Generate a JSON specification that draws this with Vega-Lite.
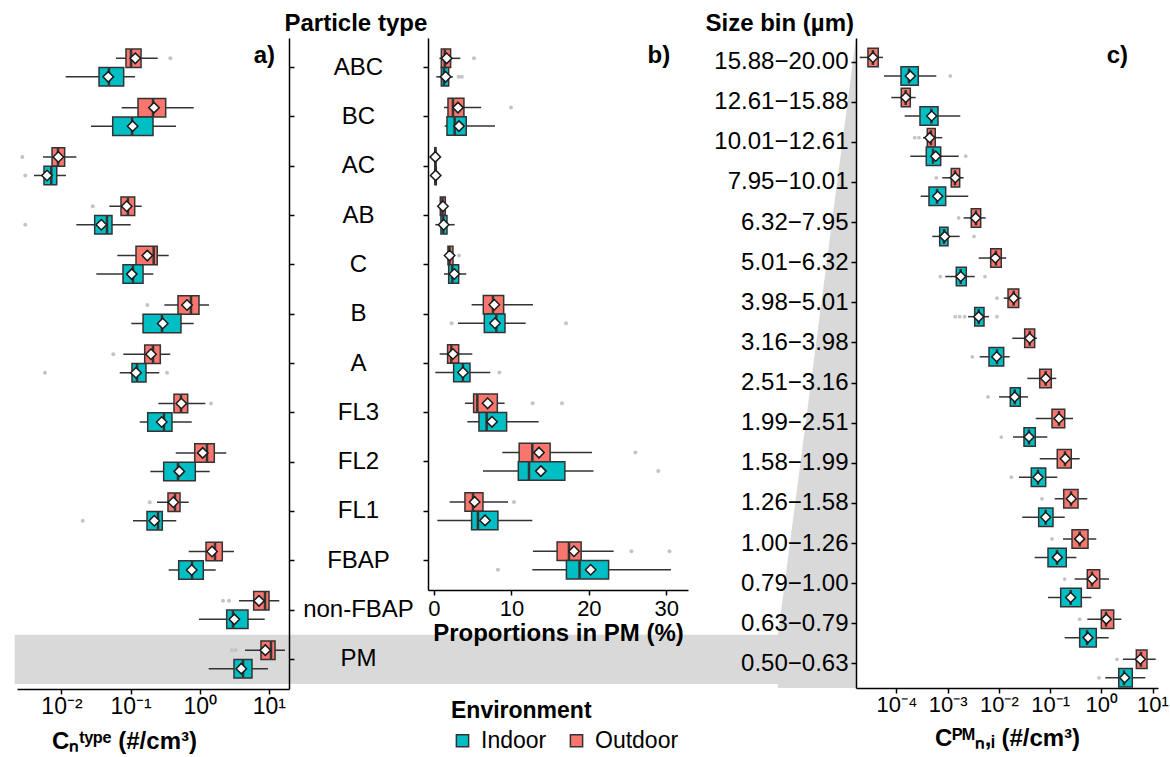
{
  "$schema": "https://vega.github.io/schema/vega-lite/v6.json",
  "background": "white",
  "padding": {"left": 14, "top": 11, "right": 5, "bottom": 5},
  "config": {
    "view": {"stroke": null},
    "font": "Liberation Sans",
    "axis": {"domainColor": "black", "domainWidth": 1.5, "tickColor": "black", "tickWidth": 1.5, "tickSize": 5, "labelColor": "black", "titleColor": "black", "grid": false, "labelFlush": false, "labelOverlap": false, "titleFontWeight": "bold", "titleFontSize": 24},
    "legend": {"orient": "none", "legendX": 434, "legendY": 662, "direction": "horizontal", "titleFontSize": 23, "titleFontWeight": "bold", "titleColor": "black", "labelFontSize": 23, "labelColor": "black", "symbolType": "square", "symbolSize": 150, "symbolStrokeColor": "#333333", "symbolStrokeWidth": 1.5, "symbolOpacity": 1, "labelOffset": 7, "columnPadding": 18, "titlePadding": 6}
  },
  "datasets": {
    "boxa": [
      {"t": "ABC", "env": "Outdoor", "lo": 0.0615, "q1": 0.0857, "med": 0.1014, "q3": 0.1416, "hi": 0.2466, "mean": 0.1169},
      {"t": "ABC", "env": "Indoor", "lo": 0.0115, "q1": 0.0349, "med": 0.0486, "q3": 0.0794, "hi": 0.1159, "mean": 0.0475},
      {"t": "BC", "env": "Outdoor", "lo": 0.0743, "q1": 0.128, "med": 0.211, "q3": 0.322, "hi": 0.819, "mean": 0.218},
      {"t": "BC", "env": "Indoor", "lo": 0.0267, "q1": 0.0551, "med": 0.105, "q3": 0.211, "hi": 0.454, "mean": 0.107},
      {"t": "AC", "env": "Outdoor", "lo": 0.0054, "q1": 0.0073, "med": 0.0089, "q3": 0.0111, "hi": 0.0164, "mean": 0.009},
      {"t": "AC", "env": "Indoor", "lo": 0.004, "q1": 0.00558, "med": 0.00711, "q3": 0.00853, "hi": 0.0116, "mean": 0.00617},
      {"t": "AB", "env": "Outdoor", "lo": 0.0492, "q1": 0.0726, "med": 0.0916, "q3": 0.1146, "hi": 0.1448, "mean": 0.0878},
      {"t": "AB", "env": "Indoor", "lo": 0.0164, "q1": 0.0302, "med": 0.0455, "q3": 0.0538, "hi": 0.1003, "mean": 0.0377},
      {"t": "C", "env": "Outdoor", "lo": 0.0642, "q1": 0.1197, "med": 0.216, "q3": 0.243, "hi": 0.356, "mean": 0.1745},
      {"t": "C", "env": "Indoor", "lo": 0.0319, "q1": 0.0776, "med": 0.1083, "q3": 0.1514, "hi": 0.213, "mean": 0.1038},
      {"t": "B", "env": "Outdoor", "lo": 0.3076, "q1": 0.485, "med": 0.748, "q3": 0.977, "hi": 1.364, "mean": 0.655},
      {"t": "B", "env": "Indoor", "lo": 0.1023, "q1": 0.1514, "med": 0.2847, "q3": 0.536, "hi": 0.819, "mean": 0.2917},
      {"t": "A", "env": "Outdoor", "lo": 0.0784, "q1": 0.16, "med": 0.211, "q3": 0.269, "hi": 0.3756, "mean": 0.197},
      {"t": "A", "env": "Indoor", "lo": 0.0696, "q1": 0.1047, "med": 0.1239, "q3": 0.167, "hi": 0.26, "mean": 0.1197},
      {"t": "FL3", "env": "Outdoor", "lo": 0.2518, "q1": 0.4246, "med": 0.536, "q3": 0.67, "hi": 1.205, "mean": 0.542},
      {"t": "FL3", "env": "Indoor", "lo": 0.1355, "q1": 0.1767, "med": 0.304, "q3": 0.397, "hi": 0.766, "mean": 0.282},
      {"t": "FL2", "env": "Outdoor", "lo": 0.4497, "q1": 0.847, "med": 1.276, "q3": 1.626, "hi": 2.426, "mean": 1.105},
      {"t": "FL2", "env": "Indoor", "lo": 0.193, "q1": 0.301, "med": 0.485, "q3": 0.864, "hi": 1.396, "mean": 0.507},
      {"t": "FL1", "env": "Outdoor", "lo": 0.241, "q1": 0.3476, "med": 0.4393, "q3": 0.519, "hi": 0.693, "mean": 0.415},
      {"t": "FL1", "env": "Indoor", "lo": 0.1083, "q1": 0.1727, "med": 0.2492, "q3": 0.2877, "hi": 0.458, "mean": 0.2203},
      {"t": "FBAP", "env": "Outdoor", "lo": 0.693, "q1": 1.233, "med": 1.665, "q3": 2.123, "hi": 3.136, "mean": 1.507},
      {"t": "FBAP", "env": "Indoor", "lo": 0.3557, "q1": 0.4966, "med": 0.774, "q3": 1.127, "hi": 1.704, "mean": 0.766},
      {"t": "non-FBAP", "env": "Outdoor", "lo": 3.705, "q1": 6.04, "med": 8.81, "q3": 10.07, "hi": 14.19, "mean": 7.21},
      {"t": "non-FBAP", "env": "Indoor", "lo": 0.977, "q1": 2.459, "med": 3.034, "q3": 5.0, "hi": 8.72, "mean": 3.17},
      {"t": "PM", "env": "Outdoor", "lo": 4.525, "q1": 7.71, "med": 10.76, "q3": 12.3, "hi": 17.15, "mean": 8.9},
      {"t": "PM", "env": "Indoor", "lo": 1.349, "q1": 3.136, "med": 4.233, "q3": 5.71, "hi": 9.73, "mean": 4.0}
    ],
    "outa": [
      {"t": "ABC", "env": "Outdoor", "v": 0.376},
      {"t": "AC", "env": "Outdoor", "v": 0.00271},
      {"t": "AC", "env": "Indoor", "v": 0.00299},
      {"t": "AB", "env": "Outdoor", "v": 0.0283},
      {"t": "AB", "env": "Indoor", "v": 0.00299},
      {"t": "B", "env": "Outdoor", "v": 0.1745},
      {"t": "A", "env": "Outdoor", "v": 0.0562},
      {"t": "A", "env": "Indoor", "v": 0.00577},
      {"t": "A", "env": "Indoor", "v": 0.3365},
      {"t": "FL3", "env": "Outdoor", "v": 1.457},
      {"t": "FL1", "env": "Outdoor", "v": 0.189},
      {"t": "FL1", "env": "Indoor", "v": 0.0203},
      {"t": "non-FBAP", "env": "Outdoor", "v": 2.173},
      {"t": "non-FBAP", "env": "Outdoor", "v": 2.654},
      {"t": "PM", "env": "Outdoor", "v": 2.93},
      {"t": "PM", "env": "Outdoor", "v": 3.32}
    ],
    "boxb": [
      {"t": "ABC", "env": "Outdoor", "lo": 0.7, "q1": 0.95, "med": 1.4, "q3": 2.15, "hi": 3.4, "mean": 1.64},
      {"t": "ABC", "env": "Indoor", "lo": 0.3, "q1": 0.95, "med": 1.3, "q3": 1.9, "hi": 2.45, "mean": 1.5},
      {"t": "BC", "env": "Outdoor", "lo": 1.29, "q1": 1.81, "med": 2.45, "q3": 3.87, "hi": 6.1, "mean": 3.1},
      {"t": "BC", "env": "Indoor", "lo": 1.38, "q1": 1.68, "med": 2.67, "q3": 4.17, "hi": 7.88, "mean": 3.23},
      {"t": "AC", "env": "Outdoor", "lo": 0.0, "q1": 0.1, "med": 0.17, "q3": 0.25, "hi": 0.4, "mean": 0.17},
      {"t": "AC", "env": "Indoor", "lo": 0.0, "q1": 0.12, "med": 0.2, "q3": 0.3, "hi": 0.45, "mean": 0.22},
      {"t": "AB", "env": "Outdoor", "lo": 0.8, "q1": 0.82, "med": 1.1, "q3": 1.46, "hi": 1.6, "mean": 1.16},
      {"t": "AB", "env": "Indoor", "lo": 0.17, "q1": 0.9, "med": 1.2, "q3": 1.68, "hi": 2.67, "mean": 1.25},
      {"t": "C", "env": "Outdoor", "lo": 1.7, "q1": 1.81, "med": 2.0, "q3": 2.45, "hi": 2.6, "mean": 2.02},
      {"t": "C", "env": "Indoor", "lo": 1.29, "q1": 1.9, "med": 2.37, "q3": 3.19, "hi": 4.17, "mean": 2.63},
      {"t": "B", "env": "Outdoor", "lo": 4.86, "q1": 6.37, "med": 7.62, "q3": 9.0, "hi": 12.78, "mean": 7.79},
      {"t": "B", "env": "Indoor", "lo": 3.1, "q1": 6.5, "med": 8.05, "q3": 9.17, "hi": 11.84, "mean": 7.88},
      {"t": "A", "env": "Outdoor", "lo": 0.73, "q1": 1.76, "med": 2.24, "q3": 3.19, "hi": 4.95, "mean": 2.45},
      {"t": "A", "env": "Indoor", "lo": 0.17, "q1": 2.54, "med": 3.74, "q3": 4.65, "hi": 7.27, "mean": 3.74},
      {"t": "FL3", "env": "Outdoor", "lo": 4.0, "q1": 5.12, "med": 5.6, "q3": 8.18, "hi": 9.12, "mean": 6.93},
      {"t": "FL3", "env": "Indoor", "lo": 4.31, "q1": 5.81, "med": 6.8, "q3": 9.38, "hi": 13.51, "mean": 7.49},
      {"t": "FL2", "env": "Outdoor", "lo": 8.82, "q1": 11.0, "med": 12.7, "q3": 15.0, "hi": 20.4, "mean": 13.56},
      {"t": "FL2", "env": "Indoor", "lo": 6.33, "q1": 10.89, "med": 12.27, "q3": 16.9, "hi": 20.6, "mean": 13.8},
      {"t": "FL1", "env": "Outdoor", "lo": 2.02, "q1": 4.0, "med": 5.04, "q3": 6.33, "hi": 9.56, "mean": 5.25},
      {"t": "FL1", "env": "Indoor", "lo": 0.43, "q1": 4.86, "med": 5.68, "q3": 8.26, "hi": 12.7, "mean": 6.59},
      {"t": "FBAP", "env": "Outdoor", "lo": 12.78, "q1": 15.9, "med": 17.43, "q3": 19.0, "hi": 23.2, "mean": 18.08},
      {"t": "FBAP", "env": "Indoor", "lo": 12.7, "q1": 17.1, "med": 18.8, "q3": 22.55, "hi": 30.6, "mean": 20.23}
    ],
    "outb": [
      {"t": "ABC", "env": "Outdoor", "v": 5.17},
      {"t": "ABC", "env": "Indoor", "v": 3.2},
      {"t": "ABC", "env": "Indoor", "v": 3.6},
      {"t": "BC", "env": "Outdoor", "v": 9.94},
      {"t": "C", "env": "Outdoor", "v": 3.23},
      {"t": "B", "env": "Indoor", "v": 2.28},
      {"t": "B", "env": "Indoor", "v": 17.05},
      {"t": "A", "env": "Indoor", "v": 8.44},
      {"t": "FL3", "env": "Outdoor", "v": 12.74},
      {"t": "FL3", "env": "Outdoor", "v": 16.53},
      {"t": "FL2", "env": "Outdoor", "v": 26.0},
      {"t": "FL2", "env": "Indoor", "v": 28.96},
      {"t": "FL1", "env": "Outdoor", "v": 10.33},
      {"t": "FBAP", "env": "Outdoor", "v": 25.5},
      {"t": "FBAP", "env": "Outdoor", "v": 30.4},
      {"t": "FBAP", "env": "Indoor", "v": 8.26}
    ],
    "boxc": [
      {"bin": "15.88−20.00", "env": "Outdoor", "lo": 1.91e-5, "q1": 2.77e-5, "med": 3.47e-5, "q3": 4.41e-5, "hi": 5.45e-5, "mean": 3.47e-5},
      {"bin": "15.88−20.00", "env": "Indoor", "lo": 5.7e-5, "q1": 1.225e-4, "med": 1.754e-4, "q3": 2.667e-4, "hi": 5.98e-4, "mean": 1.862e-4},
      {"bin": "12.61−15.88", "env": "Outdoor", "lo": 7.91e-5, "q1": 1.24e-4, "med": 1.514e-4, "q3": 1.862e-4, "hi": 2.37e-4, "mean": 1.514e-4},
      {"bin": "12.61−15.88", "env": "Indoor", "lo": 1.445e-4, "q1": 2.877e-4, "med": 4.79e-4, "q3": 6.47e-4, "hi": 1.762e-3, "mean": 4.87e-4},
      {"bin": "10.01−12.61", "env": "Outdoor", "lo": 3.3e-4, "q1": 4.0e-4, "med": 4.72e-4, "q3": 5.72e-4, "hi": 7.85e-4, "mean": 4.45e-4},
      {"bin": "10.01−12.61", "env": "Indoor", "lo": 1.862e-4, "q1": 3.82e-4, "med": 5.16e-4, "q3": 7.3e-4, "hi": 1.64e-3, "mean": 5.83e-4},
      {"bin": "7.95−10.01", "env": "Outdoor", "lo": 7.85e-4, "q1": 1.175e-3, "med": 1.39e-3, "q3": 1.714e-3, "hi": 2.05e-3, "mean": 1.406e-3},
      {"bin": "7.95−10.01", "env": "Indoor", "lo": 2.97e-4, "q1": 4.31e-4, "med": 6.18e-4, "q3": 9.14e-4, "hi": 2.52e-3, "mean": 6.38e-4},
      {"bin": "6.32−7.95", "env": "Outdoor", "lo": 2.05e-3, "q1": 2.89e-3, "med": 3.57e-3, "q3": 4.41e-3, "hi": 5.52e-3, "mean": 3.52e-3},
      {"bin": "6.32−7.95", "env": "Indoor", "lo": 5.0e-4, "q1": 6.98e-4, "med": 8.47e-4, "q3": 1.014e-3, "hi": 1.714e-3, "mean": 8.73e-4},
      {"bin": "5.01−6.32", "env": "Outdoor", "lo": 4.03e-3, "q1": 6.91e-3, "med": 8.77e-3, "q3": 1.114e-2, "hi": 1.395e-2, "mean": 8.51e-3},
      {"bin": "5.01−6.32", "env": "Indoor", "lo": 8.98e-4, "q1": 1.472e-3, "med": 1.795e-3, "q3": 2.31e-3, "hi": 3.37e-3, "mean": 1.795e-3},
      {"bin": "3.98−5.01", "env": "Outdoor", "lo": 1.241e-2, "q1": 1.507e-2, "med": 1.945e-2, "q3": 2.44e-2, "hi": 2.74e-2, "mean": 1.945e-2},
      {"bin": "3.98−5.01", "env": "Indoor", "lo": 2.49e-3, "q1": 3.37e-3, "med": 4.03e-3, "q3": 5.12e-3, "hi": 6.41e-3, "mean": 4.03e-3},
      {"bin": "3.16−3.98", "env": "Outdoor", "lo": 1.828e-2, "q1": 3.19e-2, "med": 4.0e-2, "q3": 5.0e-2, "hi": 5.55e-2, "mean": 4.0e-2},
      {"bin": "3.16−3.98", "env": "Indoor", "lo": 4.22e-3, "q1": 6.41e-3, "med": 9.18e-3, "q3": 1.241e-2, "hi": 1.625e-2, "mean": 9.06e-3},
      {"bin": "2.51−3.16", "env": "Outdoor", "lo": 3.59e-2, "q1": 6.27e-2, "med": 8.2e-2, "q3": 0.1055, "hi": 0.132, "mean": 8.2e-2},
      {"bin": "2.51−3.16", "env": "Indoor", "lo": 1.005e-2, "q1": 1.67e-2, "med": 2.04e-2, "q3": 2.62e-2, "hi": 3.7e-2, "mean": 2.04e-2},
      {"bin": "1.99−2.51", "env": "Outdoor", "lo": 5.24e-2, "q1": 0.1089, "med": 0.149, "q3": 0.193, "hi": 0.28, "mean": 0.149},
      {"bin": "1.99−2.51", "env": "Indoor", "lo": 1.884e-2, "q1": 3.09e-2, "med": 3.87e-2, "q3": 5.14e-2, "hi": 8.81e-2, "mean": 3.87e-2},
      {"bin": "1.58−1.99", "env": "Outdoor", "lo": 6.27e-2, "q1": 0.138, "med": 0.195, "q3": 0.259, "hi": 0.378, "mean": 0.198},
      {"bin": "1.58−1.99", "env": "Indoor", "lo": 2.47e-2, "q1": 4.29e-2, "med": 5.8e-2, "q3": 8.2e-2, "hi": 0.138, "mean": 5.8e-2},
      {"bin": "1.26−1.58", "env": "Outdoor", "lo": 0.123, "q1": 0.1845, "med": 0.256, "q3": 0.351, "hi": 0.533, "mean": 0.259},
      {"bin": "1.26−1.58", "env": "Indoor", "lo": 2.86e-2, "q1": 5.98e-2, "med": 8.2e-2, "q3": 0.114, "hi": 0.193, "mean": 8.2e-2},
      {"bin": "1.00−1.26", "env": "Outdoor", "lo": 0.1786, "q1": 0.268, "med": 0.378, "q3": 0.55, "hi": 0.798, "mean": 0.378},
      {"bin": "1.00−1.26", "env": "Indoor", "lo": 5.0e-2, "q1": 9.1e-2, "med": 0.1364, "q3": 0.207, "hi": 0.325, "mean": 0.1384},
      {"bin": "0.79−1.00", "env": "Outdoor", "lo": 0.302, "q1": 0.533, "med": 0.658, "q3": 0.931, "hi": 1.413, "mean": 0.667},
      {"bin": "0.79−1.00", "env": "Indoor", "lo": 9.1e-2, "q1": 0.161, "med": 0.252, "q3": 0.407, "hi": 0.638, "mean": 0.252},
      {"bin": "0.63−0.79", "env": "Outdoor", "lo": 0.533, "q1": 1.0, "med": 1.236, "q3": 1.746, "hi": 2.46, "mean": 1.253},
      {"bin": "0.63−0.79", "env": "Indoor", "lo": 0.193, "q1": 0.378, "med": 0.526, "q3": 0.798, "hi": 1.395, "mean": 0.55},
      {"bin": "0.50−0.63", "env": "Outdoor", "lo": 2.65, "q1": 4.83, "med": 5.96, "q3": 7.81, "hi": 11.55, "mean": 5.78},
      {"bin": "0.50−0.63", "env": "Indoor", "lo": 1.197, "q1": 2.19, "med": 2.77, "q3": 4.03, "hi": 7.23, "mean": 2.86}
    ],
    "outc": [
      {"bin": "15.88−20.00", "env": "Indoor", "v": 1.124e-3},
      {"bin": "10.01−12.61", "env": "Outdoor", "v": 2.27e-4},
      {"bin": "10.01−12.61", "env": "Outdoor", "v": 2.75e-4},
      {"bin": "10.01−12.61", "env": "Indoor", "v": 2.25e-3},
      {"bin": "7.95−10.01", "env": "Outdoor", "v": 5.98e-4},
      {"bin": "6.32−7.95", "env": "Outdoor", "v": 1.64e-3},
      {"bin": "6.32−7.95", "env": "Indoor", "v": 3.27e-3},
      {"bin": "5.01−6.32", "env": "Indoor", "v": 7.17e-4},
      {"bin": "5.01−6.32", "env": "Indoor", "v": 5.35e-3},
      {"bin": "3.98−5.01", "env": "Outdoor", "v": 9.18e-3},
      {"bin": "3.98−5.01", "env": "Indoor", "v": 1.406e-3},
      {"bin": "3.98−5.01", "env": "Indoor", "v": 1.714e-3},
      {"bin": "3.98−5.01", "env": "Indoor", "v": 2.15e-3},
      {"bin": "3.98−5.01", "env": "Indoor", "v": 9.18e-3},
      {"bin": "3.16−3.98", "env": "Indoor", "v": 3.02e-3},
      {"bin": "2.51−3.16", "env": "Indoor", "v": 6.12e-3},
      {"bin": "1.99−2.51", "env": "Indoor", "v": 1.114e-2},
      {"bin": "1.58−1.99", "env": "Indoor", "v": 1.746e-2},
      {"bin": "1.26−1.58", "env": "Outdoor", "v": 0.0695},
      {"bin": "1.00−1.26", "env": "Outdoor", "v": 0.109},
      {"bin": "0.79−1.00", "env": "Outdoor", "v": 0.193},
      {"bin": "0.63−0.79", "env": "Outdoor", "v": 0.378},
      {"bin": "0.50−0.63", "env": "Outdoor", "v": 2.03},
      {"bin": "0.50−0.63", "env": "Indoor", "v": 0.901}
    ],
    "wedge": [
      {"frac": 0, "edge": 4.84e-7},
      {"frac": 0.0815, "edge": 4.84e-7},
      {"frac": 1, "edge": 1.62e-5}
    ]
  },
  "spacing": 139,
  "bounds": "flush",
  "hconcat": [
    {
      "width": 272,
      "height": 651,
      "layer": [
        {
          "data": {"values": [{"t": "PM"}]},
          "mark": {"type": "rect", "color": "#d9d9d9"},
          "encoding": {
            "y": {"field": "t", "type": "nominal",
              "scale": {"type": "band", "domain": ["ABC", "BC", "AC", "AB", "C", "B", "A", "FL3", "FL2", "FL1", "FBAP", "non-FBAP", "PM"], "paddingInner": 0, "paddingOuter": 0.1},
              "axis": {"orient": "right", "labelAlign": "center", "labelBaseline": "middle", "labelPadding": 64, "labelFontSize": 24, "title": "Particle type", "titleAngle": 0, "titleAlign": "left", "titleBaseline": "alphabetic", "titleX": -5, "titleY": -8, "zindex": 1}},
            "x": {"datum": 0.0021, "type": "quantitative",
              "scale": {"type": "log", "domain": [0.00227, 19.6], "nice": false},
              "axis": {"values": [0.01, 0.1, 1, 10], "labelExpr": "datum.value < 0.05 ? '10⁻²' : datum.value < 0.5 ? '10⁻¹' : datum.value < 5 ? '10⁰' : '10¹'", "labelFontSize": 23, "labelPadding": 1, "title": "Cₙᵗʸᵖᵉ (#/cm³)", "titleX": 107, "titlePadding": 11}},
            "x2": {"datum": 2.34e8}
          }
        },
        {
          "data": {"name": "boxa"},
          "mark": {"type": "rule", "color": "#333333", "strokeWidth": 1.5},
          "encoding": {
            "y": {"field": "t", "type": "nominal"},
            "yOffset": {"field": "env", "type": "nominal", "scale": {"domain": ["Outdoor", "Indoor"], "paddingInner": 0, "paddingOuter": 0.333}},
            "x": {"field": "lo", "type": "quantitative"},
            "x2": {"field": "hi"}
          }
        },
        {
          "data": {"name": "boxa"},
          "mark": {"type": "bar", "stroke": "#333333", "strokeWidth": 1.5, "opacity": 1},
          "encoding": {
            "y": {"field": "t", "type": "nominal"},
            "yOffset": {"field": "env", "type": "nominal", "scale": {"domain": ["Outdoor", "Indoor"], "paddingInner": 0, "paddingOuter": 0.333}},
            "x": {"field": "q1", "type": "quantitative"},
            "x2": {"field": "q3"},
            "fill": {"field": "env", "type": "nominal", "title": "Environment", "scale": {"domain": ["Indoor", "Outdoor"], "range": ["#00BFC4", "#F8766D"]}}
          }
        },
        {
          "data": {"name": "boxa"},
          "mark": {"type": "tick", "color": "#333333", "thickness": 2.5, "size": 18, "opacity": 1},
          "encoding": {
            "y": {"field": "t", "type": "nominal"},
            "yOffset": {"field": "env", "type": "nominal", "scale": {"domain": ["Outdoor", "Indoor"], "paddingInner": 0, "paddingOuter": 0.333}},
            "x": {"field": "med", "type": "quantitative"}
          }
        },
        {
          "data": {"name": "outa"},
          "mark": {"type": "point", "filled": true, "color": "#c4c4c4", "size": 16, "opacity": 1},
          "encoding": {
            "y": {"field": "t", "type": "nominal"},
            "yOffset": {"field": "env", "type": "nominal", "scale": {"domain": ["Outdoor", "Indoor"], "paddingInner": 0, "paddingOuter": 0.333}},
            "x": {"field": "v", "type": "quantitative"}
          }
        },
        {
          "data": {"name": "boxa"},
          "mark": {"type": "point", "shape": "diamond", "fill": "white", "stroke": "#1a1a1a", "strokeWidth": 1.5, "size": 110, "opacity": 1},
          "encoding": {
            "y": {"field": "t", "type": "nominal"},
            "yOffset": {"field": "env", "type": "nominal", "scale": {"domain": ["Outdoor", "Indoor"], "paddingInner": 0, "paddingOuter": 0.333}},
            "x": {"field": "mean", "type": "quantitative"}
          }
        },
        {
          "data": {"values": [{}]},
          "mark": {"type": "text", "text": "a)", "fontSize": 24, "fontWeight": "bold", "align": "right", "baseline": "alphabetic", "dy": -5, "color": "black"},
          "encoding": {
            "x": {"datum": 12.3, "type": "quantitative"},
            "y": {"datum": "ABC", "type": "nominal"}
          }
        }
      ]
    },
    {
      "spacing": 168,
      "bounds": "flush",
      "hconcat": [
        {
          "width": 260,
          "height": 552,
          "layer": [
            {
              "data": {"name": "boxb"},
              "mark": {"type": "rule", "color": "#333333", "strokeWidth": 1.5},
              "encoding": {
                "y": {"field": "t", "type": "nominal",
                  "scale": {"type": "band", "domain": ["ABC", "BC", "AC", "AB", "C", "B", "A", "FL3", "FL2", "FL1", "FBAP"], "paddingInner": 0, "paddingOuter": 0.1},
                  "axis": {"orient": "left", "labels": false, "title": null}},
                "yOffset": {"field": "env", "type": "nominal", "scale": {"domain": ["Outdoor", "Indoor"], "paddingInner": 0, "paddingOuter": 0.333}},
                "x": {"field": "lo", "type": "quantitative",
                  "scale": {"type": "linear", "domain": [-0.77, 32.8], "nice": false, "zero": false},
                  "axis": {"values": [0, 10, 20, 30], "labelFontSize": 22, "labelPadding": 3, "title": "Proportions in PM (%)", "titlePadding": 2}},
                "x2": {"field": "hi"}
              }
            },
            {
              "data": {"name": "boxb"},
              "mark": {"type": "bar", "stroke": "#333333", "strokeWidth": 1.5, "opacity": 1},
              "encoding": {
                "y": {"field": "t", "type": "nominal"},
                "yOffset": {"field": "env", "type": "nominal", "scale": {"domain": ["Outdoor", "Indoor"], "paddingInner": 0, "paddingOuter": 0.333}},
                "x": {"field": "q1", "type": "quantitative"},
                "x2": {"field": "q3"},
                "fill": {"field": "env", "type": "nominal", "title": "Environment"}
              }
            },
            {
              "data": {"name": "boxb"},
              "mark": {"type": "tick", "color": "#333333", "thickness": 2.5, "size": 18, "opacity": 1},
              "encoding": {
                "y": {"field": "t", "type": "nominal"},
                "yOffset": {"field": "env", "type": "nominal", "scale": {"domain": ["Outdoor", "Indoor"], "paddingInner": 0, "paddingOuter": 0.333}},
                "x": {"field": "med", "type": "quantitative"}
              }
            },
            {
              "data": {"name": "outb"},
              "mark": {"type": "point", "filled": true, "color": "#c4c4c4", "size": 16, "opacity": 1},
              "encoding": {
                "y": {"field": "t", "type": "nominal"},
                "yOffset": {"field": "env", "type": "nominal", "scale": {"domain": ["Outdoor", "Indoor"], "paddingInner": 0, "paddingOuter": 0.333}},
                "x": {"field": "v", "type": "quantitative"}
              }
            },
            {
              "data": {"name": "boxb"},
              "mark": {"type": "point", "shape": "diamond", "fill": "white", "stroke": "#1a1a1a", "strokeWidth": 1.5, "size": 110, "opacity": 1},
              "encoding": {
                "y": {"field": "t", "type": "nominal"},
                "yOffset": {"field": "env", "type": "nominal", "scale": {"domain": ["Outdoor", "Indoor"], "paddingInner": 0, "paddingOuter": 0.333}},
                "x": {"field": "mean", "type": "quantitative"}
              }
            },
            {
              "data": {"values": [{}]},
              "mark": {"type": "text", "text": "b)", "fontSize": 24, "fontWeight": "bold", "align": "right", "baseline": "alphabetic", "dy": -5, "color": "black"},
              "encoding": {
                "x": {"datum": 30.5, "type": "quantitative"},
                "y": {"datum": "ABC", "type": "nominal"}
              }
            }
          ]
        },
        {
          "width": 302,
          "height": 650,
          "resolve": {"scale": {"y": "independent"}},
          "layer": [
            {
              "data": {"name": "wedge"},
              "mark": {"type": "area", "orient": "horizontal", "color": "#d9d9d9", "opacity": 1},
              "encoding": {
                "y": {"field": "frac", "type": "quantitative", "scale": {"domain": [0, 1], "nice": false, "zero": false}, "axis": null},
                "x": {"field": "edge", "type": "quantitative",
                  "scale": {"type": "log", "domain": [1.62e-5, 12.8], "nice": false},
                  "axis": {"values": [0.0001, 0.001, 0.01, 0.1, 1, 10], "labelExpr": "datum.value < 0.0005 ? '10⁻⁴' : datum.value < 0.005 ? '10⁻³' : datum.value < 0.05 ? '10⁻²' : datum.value < 0.5 ? '10⁻¹' : datum.value < 5 ? '10⁰' : '10¹'", "labelFontSize": 22, "labelPadding": 1, "title": "Cᴾᴹₙ,ᵢ (#/cm³)", "titlePadding": 11}},
                "x2": {"datum": 1.62e-5}
              }
            },
            {
              "layer": [
                {
                  "data": {"name": "boxc"},
                  "mark": {"type": "rule", "color": "#333333", "strokeWidth": 1.5},
                  "encoding": {
                    "y": {"field": "bin", "type": "nominal",
                      "scale": {"type": "band", "domain": ["15.88−20.00", "12.61−15.88", "10.01−12.61", "7.95−10.01", "6.32−7.95", "5.01−6.32", "3.98−5.01", "3.16−3.98", "2.51−3.16", "1.99−2.51", "1.58−1.99", "1.26−1.58", "1.00−1.26", "0.79−1.00", "0.63−0.79", "0.50−0.63"], "paddingInner": 0, "paddingOuter": 0.1},
                      "axis": {"orient": "left", "labelFontSize": 24, "labelPadding": 3, "title": "Size bin (µm)", "titleAngle": 0, "titleAlign": "left", "titleBaseline": "alphabetic", "titleX": -151, "titleY": -8, "zindex": 1}},
                    "yOffset": {"field": "env", "type": "nominal", "scale": {"domain": ["Outdoor", "Indoor"], "paddingInner": 0, "paddingOuter": 0.333}},
                    "x": {"field": "lo", "type": "quantitative"},
                    "x2": {"field": "hi"}
                  }
                },
                {
                  "data": {"name": "boxc"},
                  "mark": {"type": "bar", "stroke": "#333333", "strokeWidth": 1.5, "opacity": 1},
                  "encoding": {
                    "y": {"field": "bin", "type": "nominal"},
                    "yOffset": {"field": "env", "type": "nominal", "scale": {"domain": ["Outdoor", "Indoor"], "paddingInner": 0, "paddingOuter": 0.333}},
                    "x": {"field": "q1", "type": "quantitative"},
                    "x2": {"field": "q3"},
                    "fill": {"field": "env", "type": "nominal", "title": "Environment"}
                  }
                },
                {
                  "data": {"name": "boxc"},
                  "mark": {"type": "tick", "color": "#333333", "thickness": 2.5, "size": 15, "opacity": 1},
                  "encoding": {
                    "y": {"field": "bin", "type": "nominal"},
                    "yOffset": {"field": "env", "type": "nominal", "scale": {"domain": ["Outdoor", "Indoor"], "paddingInner": 0, "paddingOuter": 0.333}},
                    "x": {"field": "med", "type": "quantitative"}
                  }
                },
                {
                  "data": {"name": "outc"},
                  "mark": {"type": "point", "filled": true, "color": "#c4c4c4", "size": 14, "opacity": 1},
                  "encoding": {
                    "y": {"field": "bin", "type": "nominal"},
                    "yOffset": {"field": "env", "type": "nominal", "scale": {"domain": ["Outdoor", "Indoor"], "paddingInner": 0, "paddingOuter": 0.333}},
                    "x": {"field": "v", "type": "quantitative"}
                  }
                },
                {
                  "data": {"name": "boxc"},
                  "mark": {"type": "point", "shape": "diamond", "fill": "white", "stroke": "#1a1a1a", "strokeWidth": 1.5, "size": 100, "opacity": 1},
                  "encoding": {
                    "y": {"field": "bin", "type": "nominal"},
                    "yOffset": {"field": "env", "type": "nominal", "scale": {"domain": ["Outdoor", "Indoor"], "paddingInner": 0, "paddingOuter": 0.333}},
                    "x": {"field": "mean", "type": "quantitative"}
                  }
                },
                {
                  "data": {"values": [{}]},
                  "mark": {"type": "text", "text": "c)", "fontSize": 24, "fontWeight": "bold", "align": "right", "baseline": "alphabetic", "dy": 1, "color": "black"},
                  "encoding": {
                    "x": {"datum": 3.32, "type": "quantitative"},
                    "y": {"datum": "15.88−20.00", "type": "nominal"}
                  }
                }
              ]
            }
          ]
        }
      ]
    }
  ]
}
